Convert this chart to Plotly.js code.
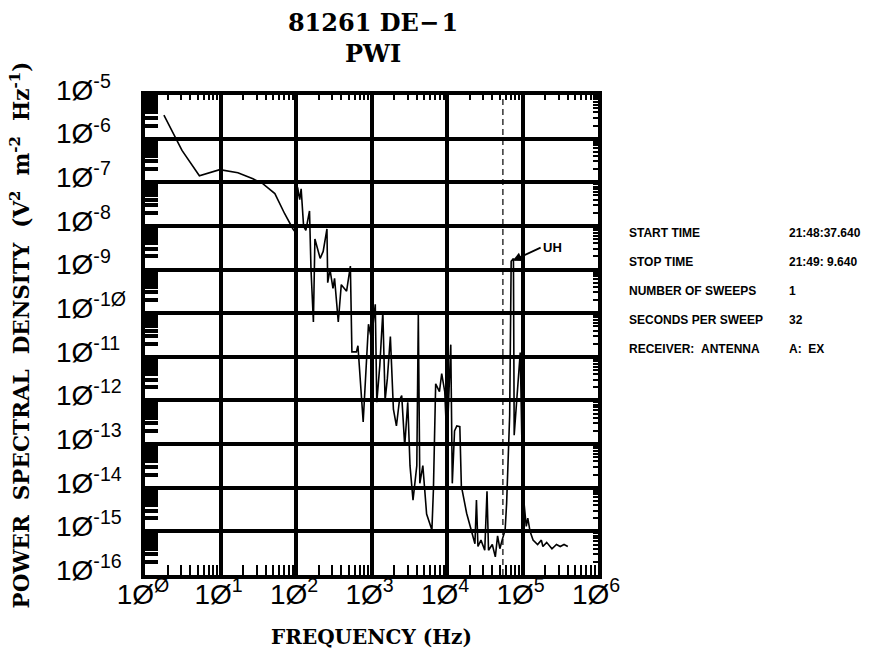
<!DOCTYPE html>
<html><head><meta charset="utf-8">
<script src="https://cdn.plot.ly/plotly-3.0.1.min.js"></script>
<style>html,body{margin:0;padding:0;background:#fff}#chart{width:879px;height:655px}</style>
</head><body><div id="chart"></div>
<script>
// Spectrum (frequency in Hz, PSD in V^2 m^-2 Hz^-1)
const freqHz = [1.78, 3.09, 5.25, 9.77, 17.0, 26.9, 36.3, 52.5, 70.8, 91.2,
  100, 105, 112, 117, 126, 135, 151, 158, 170, 178,
  209, 229, 257, 263, 282, 309, 324, 363, 398, 468,
  525, 550, 631, 661, 776, 912, 1000, 1122, 1175, 1288,
  1413, 1514, 1622, 1778, 1950, 2138, 2344, 2512, 2754, 3020,
  3236, 3548, 3981, 4169, 4365, 4786, 5370, 6310, 6607, 7079,
  7943, 8511, 9333, 10000, 11220, 11750, 12590, 13490, 14790, 15490,
  18200, 21380, 23440, 24550, 25700, 28180, 31620, 33880, 35480, 39810,
  43650, 46770, 50120, 53700, 58880, 61660, 67610, 70790, 75860, 77620,
  93330, 100000, 104700, 112200, 117500, 125900, 138000, 158500, 177800, 186200,
  208900, 245500, 281800, 316200, 354800, 398100];
const psd = [3.47e-6, 5.37e-7, 1.41e-7, 1.95e-7, 1.66e-7, 1.2e-7, 9.3e-8, 5.5e-8, 1.9e-8, 8.5e-9,
  6.9e-9, 7.6e-8, 4.0e-8, 7.1e-8, 1.0e-8, 7.9e-9, 2.2e-8, 1.0e-9, 6.3e-11, 5.0e-9,
  1.8e-9, 2.6e-9, 8.5e-9, 5.0e-10, 1.0e-9, 3.7e-10, 6.3e-10, 6.3e-11, 4.5e-10, 3.2e-10,
  1.2e-9, 1.3e-11, 1.3e-11, 1.8e-11, 3.2e-13, 5.6e-11, 2.5e-11, 1.6e-10, 9.1e-13, 6.3e-12,
  1.07e-10, 1.0e-12, 3.2e-12, 2.9e-11, 6.3e-13, 2.6e-13, 1.0e-12, 1.3e-12, 9.1e-14, 9.1e-13,
  3.2e-14, 5.2e-15, 3.2e-14, 9.1e-11, 1.26e-14, 3.2e-14, 2.5e-15, 1.07e-15, 8.9e-15, 2.4e-12,
  1.6e-12, 4.1e-12, 1.6e-12, 1.0e-13, 1.9e-11, 1.26e-14, 2.0e-13, 2.6e-13, 2.5e-13, 1.1e-14,
  2.6e-15, 9.1e-16, 5.2e-16, 5.2e-15, 4.5e-16, 6.3e-16, 3.7e-16, 8.3e-15, 3.7e-16, 5.0e-16,
  2.6e-16, 7.9e-16, 4.0e-16, 6.3e-16, 1.07e-15, 4.5e-15, 4.6e-13, 1.55e-9, 1.8e-9, 1.6e-13,
  1.26e-11, 2.0e-14, 4.5e-15, 1.3e-15, 2.0e-15, 1.0e-15, 6.3e-16, 5.0e-16, 6.3e-16, 4.5e-16,
  5.6e-16, 4.0e-16, 5.0e-16, 4.5e-16, 5.0e-16, 4.5e-16];

const markerFreq = 5.5e4;           // dashed reference line
const yBounds = [1e-16, 1e-5];
const uhFreq = 7.4e4, uhPsd = 1.6e-9, uhLabel = 'UH';

const xTickVals = [1, 10, 100, 1e3, 1e4, 1e5, 1e6];
const xTickText = ['1Ø<sup>Ø</sup>', '1Ø<sup>1</sup>', '1Ø<sup>2</sup>', '1Ø<sup>3</sup>', '1Ø<sup>4</sup>', '1Ø<sup>5</sup>', '1Ø<sup>6</sup>'];
const yTickVals = [1e-16, 1e-15, 1e-14, 1e-13, 1e-12, 1e-11, 1e-10, 1e-9, 1e-8, 1e-7, 1e-6, 1e-5];
const yTickText = ['1Ø<sup>-16</sup>', '1Ø<sup>-15</sup>', '1Ø<sup>-14</sup>', '1Ø<sup>-13</sup>', '1Ø<sup>-12</sup>', '1Ø<sup>-11</sup>', '1Ø<sup>-1Ø</sup>', '1Ø<sup>-9</sup>', '1Ø<sup>-8</sup>', '1Ø<sup>-7</sup>', '1Ø<sup>-6</sup>', '1Ø<sup>-5</sup>'];

const titleText = '81261 DE\u2212\u200a1<br>PWI';
const xTitle = 'FREQUENCY (Hz)';
const yTitle = 'POWER\u00a0\u00a0SPECTRAL\u00a0\u00a0DENSITY\u00a0\u00a0(V<sup>2</sup>\u00a0\u00a0m<sup>-2</sup>\u00a0\u00a0Hz<sup>-1</sup>)\u00a0\u00a0\u00a0';
const infoLabels = ['START TIME', 'STOP TIME', 'NUMBER OF SWEEPS', 'SECONDS PER SWEEP', 'RECEIVER:\u00a0\u00a0ANTENNA'];
const infoValues = ['21:48:37.640', '21:49:\u00a09.640', '1', '32', 'A:\u00a0\u00a0EX'];

const W = 879, H = 655;
const px = v => v / W, py = v => 1 - v / H;

const traces = [
  {x: freqHz, y: psd, type: 'scatter', mode: 'lines', line: {color: 'black', width: 1.6}, hoverinfo: 'skip'},
  {x: [markerFreq, markerFreq], y: yBounds, type: 'scatter', mode: 'lines', line: {color: 'black', width: 1.2, dash: '6px,4px'}, hoverinfo: 'skip'},
  // non-drawing copies that only attach the label / mirror-tick axes
  {x: freqHz, y: psd, xaxis: 'x2', yaxis: 'y', type: 'scatter', mode: 'none', hoverinfo: 'skip'},
  {x: freqHz, y: psd, xaxis: 'x', yaxis: 'y2', type: 'scatter', mode: 'none', hoverinfo: 'skip'},
  {x: freqHz, y: psd, xaxis: 'x3', yaxis: 'y', type: 'scatter', mode: 'none', hoverinfo: 'skip'},
  {x: freqHz, y: psd, xaxis: 'x', yaxis: 'y3', type: 'scatter', mode: 'none', hoverinfo: 'skip'}
];

const serifBold = {family: 'DejaVu Serif', size: 20, color: 'black', weight: 'bold'};
const tickFont = {family: 'Liberation Sans', size: 28, color: 'black'};

const annotations = [];
infoLabels.forEach((t, i) => {
  const yy = 233 + i * 29;
  annotations.push({xref: 'paper', yref: 'paper', x: px(627), y: py(yy), xanchor: 'left', yanchor: 'middle', text: t, showarrow: false,
    font: {family: 'Liberation Sans', size: 12, color: 'black', weight: 'bold'}});
  annotations.push({xref: 'paper', yref: 'paper', x: px(787), y: py(yy), xanchor: 'left', yanchor: 'middle', text: infoValues[i], showarrow: false,
    font: {family: 'Liberation Sans', size: 12, color: 'black', weight: 'bold'}});
});
annotations.push({xref: 'x', yref: 'y', x: Math.log10(uhFreq), y: Math.log10(uhPsd), text: uhLabel, showarrow: true,
  ax: 28, ay: -13, arrowhead: 2, arrowsize: 1, arrowwidth: 1.8, arrowcolor: 'black', xanchor: 'left',
  font: {family: 'Liberation Sans', size: 13, color: 'black', weight: 'bold'}});

const minorCommon = {tickcolor: 'black', dtick: 'D1', showgrid: false};

const layout = {
  width: W, height: H, margin: {l: 0, r: 0, t: 0, b: 0},
  paper_bgcolor: 'white', plot_bgcolor: 'white', showlegend: false,
  title: {text: titleText, font: {family: 'DejaVu Serif', size: 24, color: 'black', weight: 'bold'},
    x: px(373), xanchor: 'center', y: py(31), yanchor: 'top', yref: 'container', xref: 'container'},
  xaxis: {type: 'log', range: [0, 6], domain: [px(145), px(598)], anchor: 'y',
    showline: true, linewidth: 4, linecolor: 'black', mirror: true,
    showgrid: true, gridcolor: 'black', gridwidth: 4, dtick: 1, ticks: '', showticklabels: false, zeroline: false,
    minor: Object.assign({ticks: 'inside', ticklen: 10, tickwidth: 2}, minorCommon),
    title: {text: xTitle, font: serifBold, standoff: 53}},
  xaxis2: {overlaying: 'x', type: 'log', range: [0, 6], anchor: 'y', side: 'bottom',
    showline: false, showgrid: false, zeroline: false, ticks: '', ticklabelshift: -2,
    tickmode: 'array', tickvals: xTickVals, ticktext: xTickText, tickfont: tickFont},
  xaxis3: {overlaying: 'x', type: 'log', range: [0, 6], anchor: 'y', side: 'top',
    showline: false, showgrid: false, zeroline: false, ticks: '', showticklabels: false,
    minor: Object.assign({ticks: 'inside', ticklen: 5, tickwidth: 2}, minorCommon)},
  yaxis: {type: 'log', range: [-16, -5], domain: [py(575), py(95)], anchor: 'x',
    showline: true, linewidth: 4, linecolor: 'black', mirror: true,
    showgrid: true, gridcolor: 'black', gridwidth: 4, dtick: 1, ticks: '', showticklabels: false, zeroline: false,
    minor: Object.assign({ticks: 'inside', ticklen: 13, tickwidth: 4}, minorCommon),
    title: {text: yTitle, font: Object.assign({}, serifBold, {size: 21.5}), standoff: 106}},
  yaxis2: {overlaying: 'y', type: 'log', range: [-16, -5], anchor: 'free', position: px(55), side: 'right',
    showline: false, showgrid: false, zeroline: false, ticks: '', ticklabelshift: -5,
    tickmode: 'array', tickvals: yTickVals, ticktext: yTickText, tickfont: tickFont},
  yaxis3: {overlaying: 'y', type: 'log', range: [-16, -5], anchor: 'x', side: 'right',
    showline: false, showgrid: false, zeroline: false, ticks: '', showticklabels: false,
    minor: Object.assign({ticks: 'inside', ticklen: 5, tickwidth: 2}, minorCommon)},
  annotations: annotations
};

Plotly.newPlot('chart', traces, layout, {staticPlot: true});
</script></body></html>
